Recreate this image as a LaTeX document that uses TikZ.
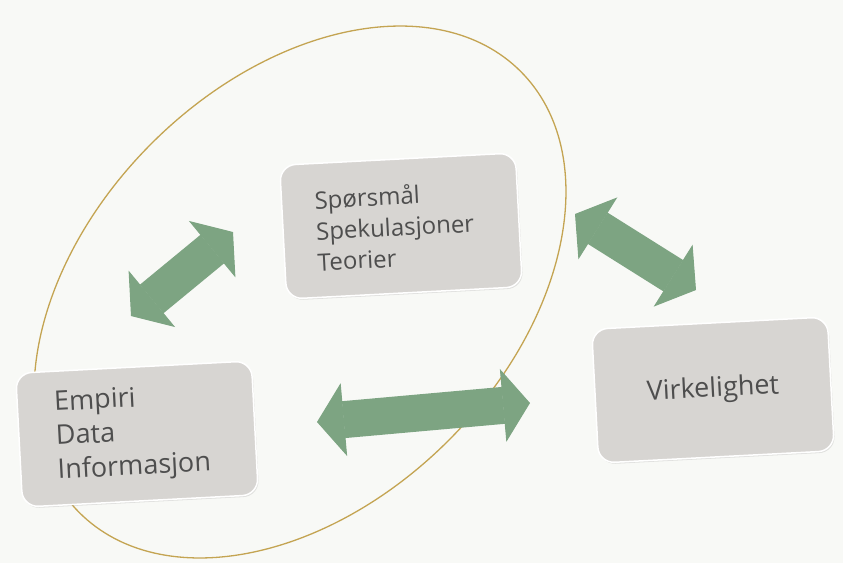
\documentclass[tikz,border=0pt]{standalone}
\usepackage{fontspec}
\setmainfont{Open Sans}
\usetikzlibrary{arrows.meta}
\usetikzlibrary{shadows}
\usetikzlibrary{positioning}
\definecolor{boxgrey}{RGB}{215,213,210}
\definecolor{arrowgreen}{RGB}{125,164,130}
\definecolor{ringgold}{RGB}{196,164,82}
\definecolor{paper}{RGB}{248,249,246}
\definecolor{inkgrey}{RGB}{78,78,78}

\begin{document}
\begin{tikzpicture}[
  x=1pt, y=-1pt,
  every node/.style={font=\fontsize{27}{34}\selectfont, text=inkgrey},
  box/.style={
    fill=boxgrey, draw=white, line width=1.5pt,
    rounded corners=16pt, rotate=3,
    minimum width=236pt, minimum height=134pt,
    drop shadow={opacity=0.2, shadow xshift=1pt, shadow yshift=-1.5pt}
  },
  list/.style={box, text width=#1, align=left, inner xsep=0pt},
  fathead/.tip={Triangle[length=27pt, width=73pt, line width=1pt]},
  twoway/.style={line width=37pt, draw=arrowgreen, fill=arrowgreen, fathead-fathead}
]

% Frame and ring
\fill[paper] (0,0) rectangle (843,563);
\useasboundingbox (0,0) rectangle (843,563);
\draw[ringgold, line width=1.3pt, rotate around={45:(300,292)}]
  (300,292) ellipse [x radius=312pt, y radius=210pt];

% Nodes
\node[list=170pt, font=\fontsize{24}{31}\selectfont] (sporsmal) at (401,226)
  {Spørsmål\\Spekulasjoner\\Teorier};
\node[list=162pt] (empiri) at (137,434) {Empiri\\Data\\Informasjon};
\node[box, align=center] (virkelighet) at (713,390) {Virkelighet};

% Arrow ends
\coordinate (em-sp) at (131,316);
\coordinate (sp-em) at (233,232);
\coordinate (em-vi) at (317,422);
\coordinate (vi-em) at (530,403);
\coordinate (sp-vi) at (575,214);
\coordinate (vi-sp) at (696,290);

% Arrows
\draw[twoway] (em-sp) -- (sp-em);
\draw[twoway] (em-vi) -- (vi-em);
\draw[twoway] (sp-vi) -- (vi-sp);
\end{tikzpicture}
\end{document}
